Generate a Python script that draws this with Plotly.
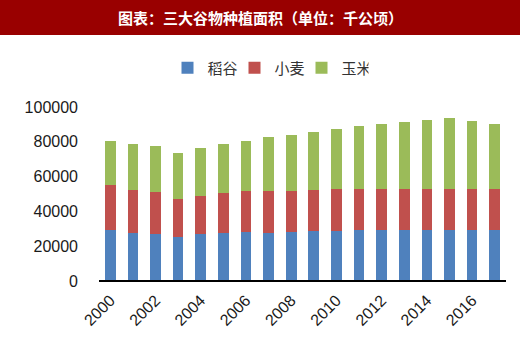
import plotly.graph_objects as go

# Sown area of the three main cereals in China (thousand hectares)
years = list(range(2000, 2018))
rice = [29140, 27600, 27030, 25310, 27030, 27430, 28170, 27430, 28000, 28570,
        28570, 29140, 29140, 29140, 29140, 29140, 29140, 29140]
wheat = [26110, 24570, 24000, 21720, 21540, 23030, 23430, 24170, 23600, 24000,
         24570, 24000, 24000, 24000, 24000, 24000, 24000, 24000]
maize = [25320, 26510, 26510, 26510, 27600, 28220, 29140, 31080, 32400, 33320,
         34290, 35830, 37320, 38460, 39430, 40400, 38860, 37320]
series_names = ["稻谷", "小麦", "玉米"]
series_colors = ["#4F81BD", "#C0504D", "#9BBB59"]
title_text = "图表：三大谷物种植面积（单位：千公顷）"
y_ticks = [0, 20000, 40000, 60000, 80000, 100000]
x_ticks = list(range(2000, 2017, 2))

W, H = 520, 344
L, R, T, B = 99, 14, 107, 63
plot_w, plot_h = W - L - R, H - T - B

fig = go.Figure()
for name, vals, color in zip(series_names, [rice, wheat, maize], series_colors):
    fig.add_trace(go.Bar(x=years, y=vals, name=name, marker_color=color,
                         marker_line_width=0, width=0.47))


def py(pix):
    """pixel row from the top -> paper y"""
    return (H - B - pix) / plot_h


def px(pix):
    """pixel column from the left -> paper x"""
    return (pix - L) / plot_w


fig.update_layout(
    width=W, height=H,
    margin=dict(l=L, r=R, t=T, b=B),
    barmode="stack",
    plot_bgcolor="white", paper_bgcolor="white",
    font=dict(family="Liberation Sans, Arial, sans-serif", size=16, color="#1a1a1a"),
    showlegend=True,
    legend=dict(orientation="h", x=px(268), xanchor="center", y=py(68), yanchor="middle",
                font=dict(family="Noto Sans CJK SC", size=15, color="#333333"),
                traceorder="normal", itemwidth=30, entrywidth=22,
                entrywidthmode="pixels", bgcolor="rgba(0,0,0,0)"),
    xaxis=dict(range=[1999.5, 2017.5], tickmode="array", tickvals=x_ticks,
               tickangle=-45, showgrid=False, zeroline=False,
               showline=False, ticks="", ticklabelstandoff=6),
    yaxis=dict(range=[0, 100000], tickmode="array", tickvals=y_ticks,
               ticktext=[str(v) for v in y_ticks], showgrid=False,
               zeroline=False, showline=False, ticks="", ticklabelstandoff=20),
    shapes=[
        dict(type="rect", xref="paper", yref="paper", x0=px(0), x1=px(W),
             y0=py(35), y1=py(0), fillcolor="#990000", line_width=0, layer="below"),
        dict(type="line", xref="paper", yref="paper", x0=0, x1=1, y0=0, y1=0,
             line=dict(color="black", width=2)),
    ],
    annotations=[
        dict(text="<b>" + title_text + "</b>", xref="paper", yref="paper",
             x=px(260), y=py(17.5), xanchor="center", yanchor="middle",
             showarrow=False,
             font=dict(family="Noto Sans CJK SC", size=15, color="white")),
    ],
)

fig.write_html("out.html")
